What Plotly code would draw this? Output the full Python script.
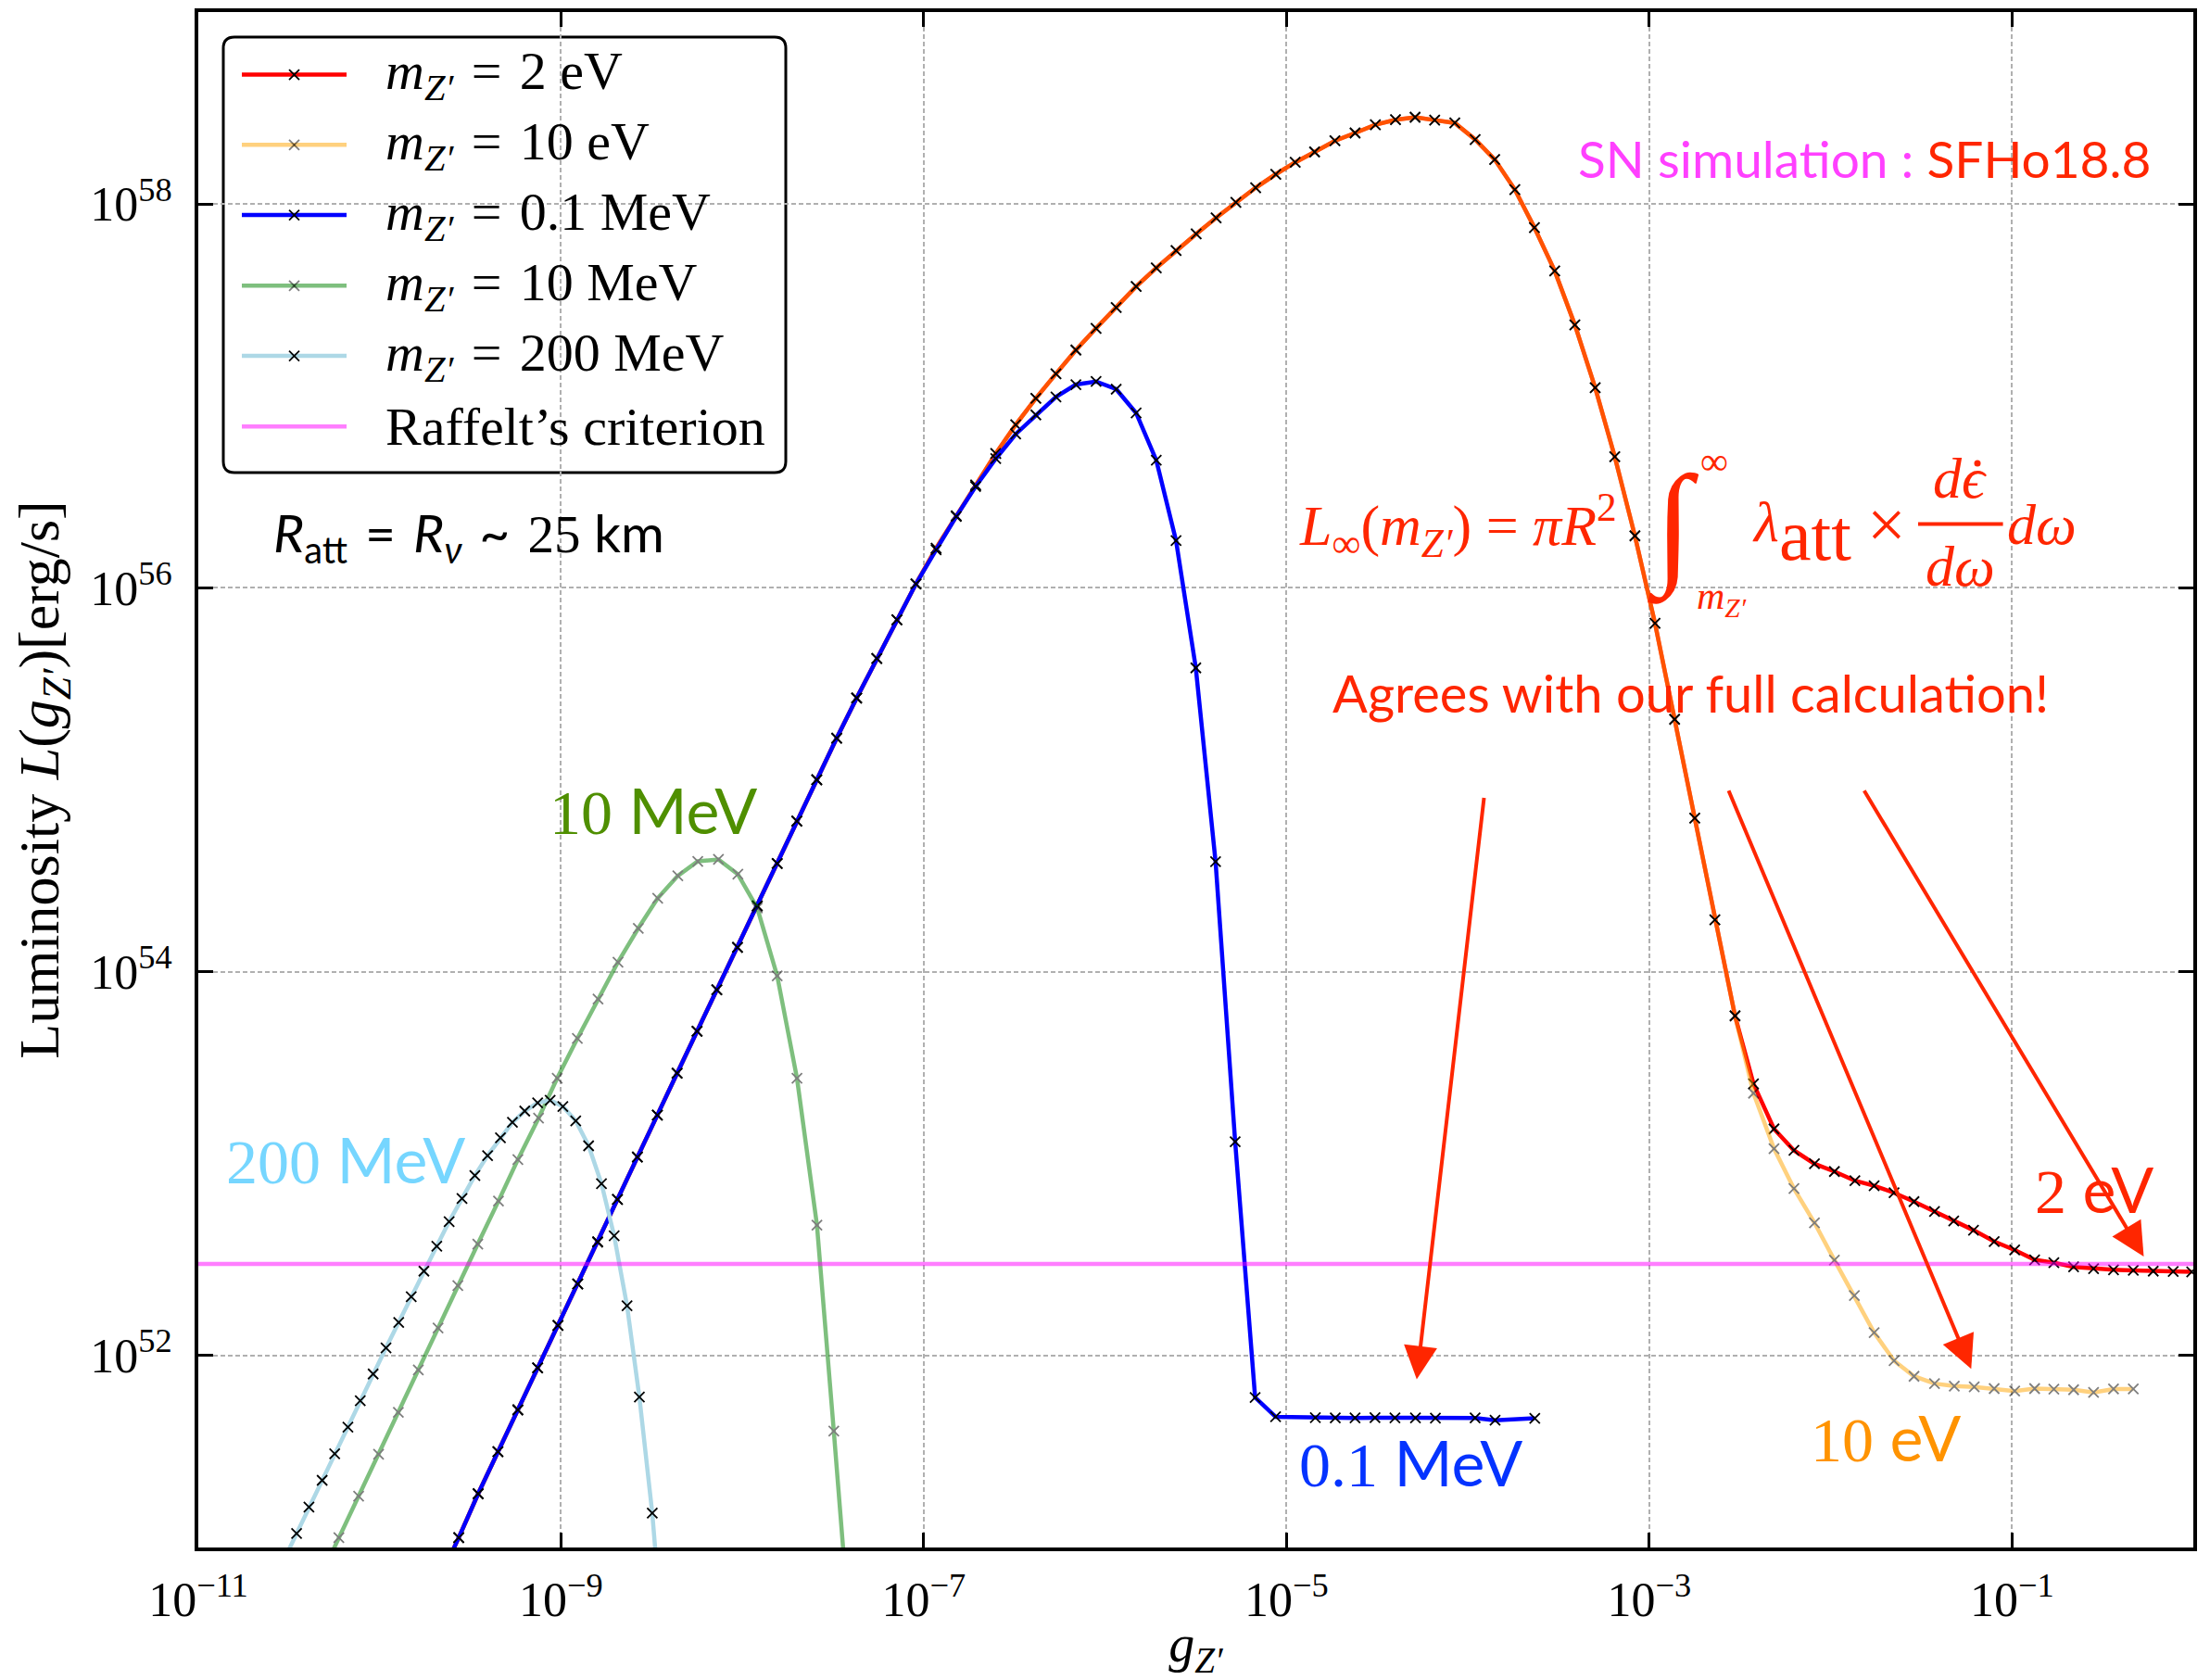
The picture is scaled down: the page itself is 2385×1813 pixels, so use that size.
import numpy as np
import plotly.graph_objects as go

# ---------------- data (log10 values) ----------------
# shared low-g part of the 2 eV and 10 eV curves (they coincide there)
log_g_light = [-9.674, -9.564, -9.457, -9.348, -9.238, -9.129, -9.017, -8.908, -8.798, -8.689,
               -8.579, -8.469, -8.360, -8.250, -8.141, -8.027, -7.918, -7.808, -7.700, -7.590,
               -7.480, -7.370, -7.259, -7.148, -7.043, -6.932, -6.821, -6.714, -6.603, -6.493,
               -6.382, -6.271, -6.161, -6.050, -5.939, -5.829, -5.718, -5.609, -5.498, -5.388,
               -5.279, -5.170, -5.059, -4.952, -4.845, -4.733, -4.622, -4.510, -4.399, -4.291,
               -4.183, -4.072, -3.960, -3.852, -3.741, -3.633, -3.521, -3.410, -3.298, -3.190,
               -3.079, -2.968, -2.860, -2.749, -2.638, -2.527]
log_L_light = [50.830, 51.051, 51.280, 51.499, 51.717, 51.936, 52.157, 52.373, 52.592, 52.813,
               53.034, 53.253, 53.471, 53.690, 53.906, 54.127, 54.343, 54.564, 54.785, 55.000,
               55.217, 55.426, 55.632, 55.833, 56.021, 56.206, 56.375, 56.536, 56.700, 56.850,
               56.987, 57.115, 57.239, 57.352, 57.461, 57.570, 57.667, 57.757, 57.844, 57.928,
               58.008, 58.085, 58.155, 58.217, 58.271, 58.329, 58.370, 58.413, 58.439, 58.452,
               58.437, 58.422, 58.336, 58.232, 58.075, 57.877, 57.651, 57.370, 57.043, 56.683,
               56.271, 55.815, 55.315, 54.800, 54.270, 53.770]

# high-g tail of m_Z' = 2 eV
log_g_2eV_tail = [-2.425, -2.312, -2.202, -2.089, -1.979, -1.866, -1.760, -1.650, -1.540, -1.427,
                  -1.321, -1.212, -1.098, -0.985, -0.875, -0.769, -0.660, -0.550, -0.440, -0.331,
                  -0.221, -0.111, -0.009]
log_L_2eV_tail = [53.416, 53.181, 53.069, 52.999, 52.959, 52.911, 52.885, 52.848, 52.802, 52.751,
                  52.701, 52.653, 52.594, 52.550, 52.499, 52.484, 52.462, 52.453, 52.447, 52.444,
                  52.440, 52.438, 52.436]

# high-g tail of m_Z' = 10 eV
log_g_10eV_tail = [-2.425, -2.312, -2.202, -2.089, -1.979, -1.869, -1.760, -1.650, -1.540, -1.427,
                   -1.318, -1.208, -1.098, -0.985, -0.875, -0.769, -0.660, -0.550, -0.440, -0.331]
log_L_10eV_tail = [53.367, 53.078, 52.870, 52.692, 52.497, 52.313, 52.120, 51.973, 51.892, 51.854,
                   51.841, 51.837, 51.828, 51.815, 51.828, 51.825, 51.822, 51.808, 51.826, 51.826]

# m_Z' = 0.1 MeV
log_g_01MeV = [-9.674, -9.564, -9.457, -9.348, -9.238, -9.129, -9.017, -8.908, -8.798, -8.689,
               -8.579, -8.469, -8.360, -8.250, -8.141, -8.027, -7.918, -7.808, -7.700, -7.590,
               -7.480, -7.370, -7.259, -7.148, -7.043, -6.932, -6.821, -6.714, -6.603, -6.493,
               -6.382, -6.271, -6.161, -6.050, -5.939, -5.829, -5.718, -5.609, -5.500, -5.391,
               -5.283, -5.173, -5.060, -4.841, -4.731, -4.622, -4.512, -4.402, -4.289, -4.179,
               -3.960, -3.850, -3.631]
log_L_01MeV = [50.830, 51.051, 51.280, 51.499, 51.717, 51.936, 52.157, 52.373, 52.592, 52.813,
               53.034, 53.253, 53.471, 53.690, 53.906, 54.127, 54.343, 54.564, 54.785, 55.000,
               55.217, 55.426, 55.632, 55.833, 56.021, 56.198, 56.372, 56.528, 56.673, 56.801,
               56.901, 56.995, 57.059, 57.075, 57.035, 56.911, 56.665, 56.246, 55.583, 54.573,
               53.114, 51.782, 51.681, 51.676, 51.675, 51.675, 51.676, 51.675, 51.675, 51.674,
               51.675, 51.663, 51.673]

# m_Z' = 10 MeV
log_g_10MeV = [-10.335, -10.225, -10.116, -10.006, -9.897, -9.787, -9.678, -9.569, -9.459, -9.345,
               -9.238, -9.124, -9.021, -8.910, -8.796, -8.686, -8.574, -8.467, -8.356, -8.246,
               -8.132, -8.025, -7.918, -7.808, -7.699, -7.589, -7.496, -7.386]
log_L_10MeV = [50.830, 51.051, 51.267, 51.486, 51.704, 51.925, 52.144, 52.365, 52.581, 52.805,
               53.021, 53.237, 53.445, 53.652, 53.858, 54.050, 54.226, 54.383, 54.500, 54.575,
               54.585, 54.508, 54.332, 53.978, 53.445, 52.680, 51.606, 50.300]

# m_Z' = 200 MeV
log_g_200MeV = [-10.528, -10.458, -10.390, -10.317, -10.248, -10.175, -10.107, -10.036, -9.965, -9.895,
                -9.826, -9.756, -9.685, -9.617, -9.546, -9.475, -9.405, -9.334, -9.268, -9.200,
                -9.129, -9.060, -8.990, -8.919, -8.848, -8.777, -8.707, -8.636, -8.568, -8.497,
                -8.427]
log_L_200MeV = [50.935, 51.073, 51.211, 51.350, 51.488, 51.627, 51.765, 51.904, 52.040, 52.173,
                52.307, 52.440, 52.570, 52.698, 52.818, 52.938, 53.042, 53.135, 53.215, 53.274,
                53.317, 53.330, 53.298, 53.223, 53.093, 52.896, 52.624, 52.259, 51.784, 51.179,
                50.380]

# Raffelt's criterion: 3e52 erg/s
g_raffelt = [1e-11, 1.0]
L_raffelt = [3e52, 3e52]

x_tickvals = [1e-11, 1e-9, 1e-7, 1e-5, 1e-3, 1e-1]
x_ticktext = ["10<sup>−11</sup>", "10<sup>−9</sup>", "10<sup>−7</sup>",
              "10<sup>−5</sup>", "10<sup>−3</sup>", "10<sup>−1</sup>"]
y_tickvals = [1e52, 1e54, 1e56, 1e58]
y_ticktext = ["10<sup>52</sup>", "10<sup>54</sup>", "10<sup>56</sup>", "10<sup>58</sup>"]

EQ = "\u2004=\u2004"
legend_labels = ["<i>m</i><sub><i>Z′</i></sub>" + EQ + "2 eV",
                 "<i>m</i><sub><i>Z′</i></sub>" + EQ + "10 eV",
                 "<i>m</i><sub><i>Z′</i></sub>" + EQ + "0.1 MeV",
                 "<i>m</i><sub><i>Z′</i></sub>" + EQ + "10 MeV",
                 "<i>m</i><sub><i>Z′</i></sub>" + EQ + "200 MeV",
                 "Raffelt’s criterion"]


def p10(a):
    return np.power(10.0, np.array(a, dtype=float))


# ---------------- figure ----------------
# the page body has an 8 px margin, so the figure is drawn 8 px smaller and
# all page-pixel positions below are converted accordingly
BODY = 8
W, H = 2385 - BODY, 1813 - BODY
ML, MR, MT, MB = 214 - BODY, 18, 13 - BODY, 143
PX_L, PX_R, PX_T, PX_B = 214, 2367, 13, 1670   # plot area in page pixels

SERIF = "Liberation Serif"
SANS = "Lato"
RED_TXT = "#FF2600"

LW = 4.5
MK = dict(symbol="x-thin", size=11, line=dict(color="black", width=1.8), color="black")

fig = go.Figure()

fig.add_trace(go.Scatter(x=p10(log_g_light + log_g_2eV_tail), y=p10(log_L_light + log_L_2eV_tail),
                         mode="lines+markers", name="m_Z' = 2 eV",
                         line=dict(color="red", width=LW), marker=MK))
fig.add_trace(go.Scatter(x=p10(log_g_light + log_g_10eV_tail), y=p10(log_L_light + log_L_10eV_tail),
                         mode="lines+markers", name="m_Z' = 10 eV", opacity=0.5,
                         line=dict(color="orange", width=LW), marker=MK))
fig.add_trace(go.Scatter(x=p10(log_g_01MeV), y=p10(log_L_01MeV),
                         mode="lines+markers", name="m_Z' = 0.1 MeV",
                         line=dict(color="blue", width=LW), marker=MK))
fig.add_trace(go.Scatter(x=p10(log_g_10MeV), y=p10(log_L_10MeV),
                         mode="lines+markers", name="m_Z' = 10 MeV", opacity=0.5,
                         line=dict(color="green", width=LW), marker=MK))
fig.add_trace(go.Scatter(x=p10(log_g_200MeV), y=p10(log_L_200MeV),
                         mode="lines+markers", name="m_Z' = 200 MeV",
                         line=dict(color="lightblue", width=LW), marker=MK))
fig.add_trace(go.Scatter(x=g_raffelt, y=L_raffelt, mode="lines", name="Raffelt's criterion",
                         opacity=0.5, line=dict(color="magenta", width=LW)))


def px(X, Y):
    return (X - PX_L) / (PX_R - PX_L), (PX_B - Y) / (PX_B - PX_T)


annotations = []
shapes = []


def ann(text, X, Y, size, color="black", family=SANS, xanchor="left", yanchor="middle"):
    xp, yp = px(X, Y)
    annotations.append(dict(text=text, x=xp, y=yp, xref="paper", yref="paper",
                            xanchor=xanchor, yanchor=yanchor, showarrow=False,
                            font=dict(family=family, size=size, color=color)))


def arrow(Xtip, Ytip, Xtail, Ytail):
    xp, yp = px(Xtip, Ytip)
    annotations.append(dict(text="", x=xp, y=yp, xref="paper", yref="paper",
                            ax=Xtail - Xtip, ay=Ytail - Ytip, axref="pixel", ayref="pixel",
                            showarrow=True, arrowhead=2, arrowsize=1.8, arrowwidth=4,
                            arrowcolor=RED_TXT, standoff=0))


def pline(X0, Y0, X1, Y1, color, width, opacity=1.0):
    x0, y0 = px(X0, Y0)
    x1, y1 = px(X1, Y1)
    shapes.append(dict(type="line", xref="paper", yref="paper", x0=x0, y0=y0, x1=x1, y1=y1,
                       line=dict(color=color, width=width), opacity=opacity, layer="above"))


def pdot(X, Y, rad, color):
    x0, y0 = px(X - rad, Y + rad)
    x1, y1 = px(X + rad, Y - rad)
    shapes.append(dict(type="circle", xref="paper", yref="paper", x0=x0, y0=y0, x1=x1, y1=y1,
                       fillcolor=color, line=dict(width=0), layer="above"))


# ---- legend box (rounded) ----
bx0, by0, bx1, by1, r = 241, 40, 848, 510, 12
def P(X, Y):
    a, b = px(X, Y)
    return f"{a:.6f},{b:.6f}"
path = (f"M {P(bx0 + r, by0)} L {P(bx1 - r, by0)} Q {P(bx1, by0)} {P(bx1, by0 + r)} "
        f"L {P(bx1, by1 - r)} Q {P(bx1, by1)} {P(bx1 - r, by1)} "
        f"L {P(bx0 + r, by1)} Q {P(bx0, by1)} {P(bx0, by1 - r)} "
        f"L {P(bx0, by0 + r)} Q {P(bx0, by0)} {P(bx0 + r, by0)} Z")
shapes.append(dict(type="path", path=path, xref="paper", yref="paper",
                   fillcolor="white", line=dict(color="black", width=3), layer="between"))

leg_rows = [80.6, 156.3, 232.1, 308.3, 384.1, 460.3]
leg_colors = ["red", "orange", "blue", "green", "lightblue", "magenta"]
leg_alpha = [1.0, 0.5, 1.0, 0.5, 1.0, 0.5]
leg_marker = [True, True, True, True, True, False]
for yrow, col, al, mk, lab in zip(leg_rows, leg_colors, leg_alpha, leg_marker, legend_labels):
    pline(261, yrow, 374, yrow, col, LW, al)
    if mk:
        pline(312, yrow - 5.5, 323, yrow + 5.5, "black", 1.8, al)
        pline(312, yrow + 5.5, 323, yrow - 5.5, "black", 1.8, al)
    ann(lab, 414, yrow, 58, family=SERIF)

# ---- curve labels ----
ann("<span style='font-family:Liberation Serif'>10</span> MeV", 591, 874, 68, color="#4F8F00")
ann("<span style='font-family:Liberation Serif'>200</span> MeV", 242, 1251, 68, color="#76D6FF")
ann("<span style='font-family:Liberation Serif'>0.1</span> MeV", 1400, 1578, 68, color="#0433FF")
ann("<span style='font-family:Liberation Serif'>10</span> eV", 1952, 1551, 68, color="#FF9300")
ann("<span style='font-family:Liberation Serif'>2</span> eV", 2194, 1283, 68, color=RED_TXT)

# ---- other texts ----
ann("<span style='color:#FF40FF'>SN simulation :</span> SFHo18.8", 1701, 171, 55, color=RED_TXT)
ann("Agrees with our full calculation!", 1436, 747, 56, color=RED_TXT)
ann("<i>R</i><sub>att</sub>\u2004=\u2004<i>R</i><sub><i>ν</i></sub>\u2004~\u2004"
    "<span style='font-family:Liberation Serif'>25</span> km", 293, 578, 57)

# formula
ann("<i>L</i><sub>∞</sub>(<i>m</i><sub><i>Z′</i></sub>) = <i>πR</i><sup>2</sup>", 1400, 566, 62,
    color=RED_TXT, family=SERIF)
ann("∫", 1806, 568, 145, color=RED_TXT, family=SERIF, xanchor="center")
ann("∞", 1850, 498, 42, color=RED_TXT, family=SERIF, xanchor="center")
ann("<i>m</i><sub><i>Z′</i></sub>", 1858, 646, 42, color=RED_TXT, family=SERIF, xanchor="center")
ann("<i>λ</i>", 1889, 563, 62, color=RED_TXT, family=SERIF)
ann("att", 1918, 578, 78, color=RED_TXT, family=SERIF)
ann("×", 2036, 566, 74, color=RED_TXT, family=SERIF, xanchor="center")
ann("<i>dϵ</i>", 2115, 516, 62, color=RED_TXT, family=SERIF, xanchor="center")
pdot(2134, 500, 3.5, RED_TXT)
pline(2070, 565.6, 2161.6, 565.6, RED_TXT, 4)
ann("<i>dω</i>", 2115, 611, 62, color=RED_TXT, family=SERIF, xanchor="center")
ann("<i>dω</i>", 2164, 566, 62, color=RED_TXT, family=SERIF)

# arrows
arrow(1528.9, 1488.6, 1601.7, 859.4)
arrow(2127.3, 1477.3, 1864.9, 851.8)
arrow(2313.5, 1356.0, 2010.9, 851.8)

axis_common = dict(type="log", ticks="inside", ticklen=16, tickwidth=3, tickcolor="black",
                   showline=True, linewidth=4, linecolor="black", mirror="ticks",
                   showgrid=True, gridcolor="#b0b0b0", gridwidth=2, griddash="5px,3px",
                   zeroline=False, tickfont=dict(family=SERIF, size=52, color="black"),
                   automargin=False)

fig.update_layout(
    width=W, height=H,
    margin=dict(l=ML, r=MR, t=MT, b=MB, pad=0),
    paper_bgcolor="white", plot_bgcolor="white",
    showlegend=False,
    xaxis=dict(axis_common, range=[-11, 0], tickvals=x_tickvals, ticktext=x_ticktext,
               ticklabelstandoff=8,
               title=dict(text="<i>g</i><sub><i>Z′</i></sub>", standoff=40,
                          font=dict(family=SERIF, size=56, color="black"))),
    yaxis=dict(axis_common, range=[51, 59], tickvals=y_tickvals, ticktext=y_ticktext,
               ticklabelstandoff=14,
               title=dict(text="Luminosity <i>L</i>(<i>g</i><sub><i>Z′</i></sub>)[erg/s]", standoff=18,
                          font=dict(family=SERIF, size=62, color="black"))),
    annotations=annotations,
    shapes=shapes,
)

fig.write_html("out.html")
